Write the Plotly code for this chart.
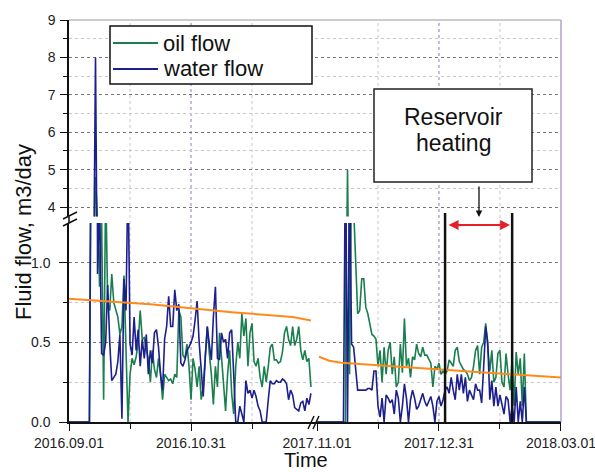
import pandas as pd
import plotly.graph_objects as go

# ---------------- data ----------------
seg1_start = "2016-09-01"
seg2_start = "2017-11-01"

water_seg1 = [0, 0, 0, 0, 0, 0, 0, 0, 0, 0,
              0, 2.5, 1.5, 8.0, 0.93, 1.4, 0.43, 0.42, 0.5, 0.86,
              0.5, 0.26, 0.28, 0.3, 0.38, 0.55, 0.02, 0.9, 0.7, 1.6,
              0.49, 0.42, 0.66, 0.45, 0.58, 0.35, 0.52, 0.4, 0.55, 0.3,
              0.45, 0.37, 0.56, 0.58, 0.47, 0.3, 0.2, 0.52, 0.6, 0.79,
              0.6, 0.6, 0.83, 0.7, 0.74, 0.37, 0.35, 0.39, 0.45, 0.47,
              0.5, 0.54, 0.64, 0.76, 0.5, 0.3, 0.16, 0.4, 0.6, 0.49,
              0.39, 0.66, 0.85, 0.4, 0.39, 0.56, 0.5, 0.52, 0.4, 0.56,
              0.58, 0.3, 0.0, 0.0, 0.1, 0.05, 0.0, 0.26, 0.18, 0.2,
              0.15, 0.2, 0.16, 0.1, 0.07, 0.0, 0.0, 0.0, 0.14, 0.26,
              0.24, 0.24, 0.26, 0.25, 0.25, 0.27, 0.26, 0.24, 0.14, 0.2,
              0.17, 0.09, 0.08, 0.07, 0.12, 0.13, 0.07, 0.15, 0.11, 0.18]

oil_seg1 = [0, 0, 0, 0, 0, 0, 0, 0, 0, 0,
            0, 2.0, 1.6, 4.8, 1.4, 0.85, 1.3, 0.14, 1.5, 0.75,
            0.7, 0.93, 0.75, 0.7, 0.66, 0.55, 0.6, 0.92, 0.45, 0.0,
            0.3, 0.4, 0.36, 0.41, 0.5, 0.7, 0.52, 0.53, 0.45, 0.4,
            0.25, 0.45, 0.33, 0.28, 0.4, 0.3, 0.14, 0.3, 0.28, 0.26,
            0.27, 0.24, 0.3, 0.28, 0.7, 0.66, 0.42, 0.4, 0.49, 0.35,
            0.14, 0.4, 0.33, 0.22, 0.35, 0.14, 0.22, 0.41, 0.6, 0.43,
            0.3, 0.11, 0.35, 0.22, 0.56, 0.41, 0.22, 0.07, 0.3, 0.45,
            0.18, 0.05, 0.35, 0.5, 0.4, 0.68, 0.54, 0.65, 0.35, 0.56,
            0.62, 0.38, 0.35, 0.4, 0.28, 0.22, 0.35, 0.25, 0.35, 0.47,
            0.49, 0.39, 0.39, 0.37, 0.38, 0.44, 0.56, 0.6, 0.52, 0.48,
            0.6, 0.48, 0.52, 0.6, 0.45, 0.39, 0.45, 0.38, 0.4, 0.22]

water_seg2 = [0, 0, 0, 0, 0, 0, 0, 0, 0, 0,
              0, 0, 0, 0, 1.8, 0.0, 1.6, 0.49, 0.47, 0.35,
              0.2, 0.2, 0.2, 0.2, 0.2, 0.21, 0.21, 0.2, 0.32, 0.32,
              0.1, 0.03, 0.15, 0.0, 0.17, 0.15, 0.12, 0.14, 0.05, 0.2,
              0.15, 0.0, 0.1, 0.24, 0.15, 0.0, 0.14, 0.2, 0.15, 0.08,
              0.1, 0.14, 0.18, 0.13, 0.1, 0.13, 0.16, 0.1, 0.0, 0.13,
              0.16, 0.1, 0.14, 0.2, 0.22, 0.18, 0.28, 0.2, 0.14, 0.3,
              0.2, 0.3, 0.18, 0.28, 0.13, 0.2, 0.17, 0.14, 0.24, 0.2,
              0.2, 0.12, 0.35, 0.6, 0.5, 0.14, 0.26, 0.1, 0.22, 0.1,
              0.17, 0.1, 0.05, 0.16, 0.14, 0.0, 0.1, 0.0, 0.22, 0.0,
              0.13, 0.0, 0.22, 0, 0, 0, 0, 0, 0, 0,
              0, 0, 0, 0, 0, 0, 0, 0, 0, 0, 0]

oil_seg2 = [0, 0, 0, 0, 0, 0, 0, 0, 0, 0,
            0, 0, 0, 0, 0, 5.0, 0.3, 1.6, 1.35, 0.95,
            0.68, 0.7, 0.9, 0.9, 0.72, 0.68, 0.62, 0.55, 0.54, 0.52,
            0.35, 0.45, 0.25, 0.47, 0.3, 0.45, 0.5, 0.3, 0.41, 0.22,
            0.25, 0.49, 0.31, 0.65, 0.35, 0.4, 0.28, 0.41, 0.39, 0.49,
            0.43, 0.41, 0.47, 0.42, 0.42, 0.39, 0.37, 0.22, 0.35, 0.33,
            0.37, 0.3, 0.32, 0.3, 0.32, 0.39, 0.37, 0.35, 0.45, 0.47,
            0.38, 0.35, 0.33, 0.32, 0.3, 0.26, 0.28, 0.35, 0.45, 0.48,
            0.3, 0.47, 0.5, 0.62, 0.49, 0.32, 0.45, 0.25, 0.28, 0.43,
            0.45, 0.25, 0.22, 0.43, 0.3, 0.2, 0.4, 0.1, 0.44, 0.3,
            0.4, 0.1, 0.43, 0, 0, 0, 0, 0, 0, 0,
            0, 0, 0, 0, 0, 0, 0, 0, 0, 0, 0]

trend_dates_seg1 = ["2016-09-01", "2016-10-11", "2016-11-20", "2016-12-10", "2016-12-20", "2016-12-29"]
trend_vals_seg1 = [0.775, 0.74, 0.69, 0.672, 0.66, 0.638]
trend_dates_seg2 = ["2017-11-02", "2017-11-07", "2017-11-13", "2017-12-02", "2017-12-31", "2018-02-01", "2018-03-01"]
trend_vals_seg2 = [0.41, 0.385, 0.372, 0.355, 0.33, 0.30, 0.279]

heating_start = "2018-01-03"
heating_end = "2018-02-05"

major_ticks = ["2016-09-01", "2016-10-31", "2017-11-01", "2017-12-31", "2018-03-01"]
major_labels = ["2016.09.01", "2016.10.31", "2017.11.01", "2017.12.31", "2018.03.01"]
minor_ticks = ["2016-10-01", "2016-11-30", "2017-12-01", "2018-01-30"]
gap_date = "2017-06-01"
break_bounds = ["2017-01-01", "2017-11-01"]

# ---------------- build ----------------
d1 = list(pd.date_range(seg1_start, periods=len(water_seg1), freq="D"))
d2 = list(pd.date_range(seg2_start, periods=len(water_seg2), freq="D"))
xs = d1 + [pd.Timestamp(gap_date)] + d2
water = water_seg1 + [None] + water_seg2
oil = oil_seg1 + [None] + oil_seg2
tx = trend_dates_seg1 + [gap_date] + trend_dates_seg2
ty = trend_vals_seg1 + [None] + trend_vals_seg2

GREEN = "#1a7f4f"
BLUE = "#1c1f8c"
ORANGE = "#ff8a1c"
FONT = "Liberation Sans, Arial, sans-serif"

L, R, T, B = 69, 34, 20, 50
W, H = 595 - L - R, 472 - T - B
def px(x):
    return (x - L) / W
def py(y):
    return (T + H - y) / H

fig = go.Figure()
for xa, ya in (("x", "y"), ("x2", "y2")):
    fig.add_trace(go.Scatter(x=xs, y=oil, mode="lines", line=dict(color=GREEN, width=1.6),
                             xaxis=xa, yaxis=ya, showlegend=False, connectgaps=False))
    fig.add_trace(go.Scatter(x=xs, y=water, mode="lines", line=dict(color=BLUE, width=1.6),
                             xaxis=xa, yaxis=ya, showlegend=False, connectgaps=False))
fig.add_trace(go.Scatter(x=tx, y=ty, mode="lines", line=dict(color=ORANGE, width=2),
                         xaxis="x", yaxis="y", showlegend=False, connectgaps=False))

low_top = 0.495
up_bot = 0.5114

xcommon = dict(type="date", range=["2016-08-31 23:00", "2018-03-01 01:00"],
               rangebreaks=[dict(bounds=break_bounds)], showgrid=False, zeroline=False,
               automargin=False)

fig.update_layout(
    width=595, height=472,
    margin=dict(l=L, r=R, t=T, b=B),
    paper_bgcolor="white", plot_bgcolor="white",
    font=dict(family=FONT, color="#222"),
    xaxis=dict(**xcommon, domain=[0, 1], anchor="y",
               tickmode="array", tickvals=major_ticks, ticktext=major_labels,
               ticks="outside", ticklen=7, tickwidth=1.2, tickcolor="#111",
               tickfont=dict(size=14, color="#222"), ticklabeloverflow="allow",
               showline=True, linecolor="#111", linewidth=1.5,
               minor=dict(tickvals=minor_ticks, ticks="outside", ticklen=5, tickcolor="#111", showgrid=False)),
    xaxis2=dict(**xcommon, domain=[0, 1], anchor="y2", matches="x",
                showticklabels=False, ticks="", showline=False),
    yaxis=dict(domain=[0, low_top], anchor="x", range=[0, 1.25], automargin=False,
               tickmode="array", tickvals=[0, 0.5, 1.0], ticktext=["0.0", "0.5", "1.0"],
               ticks="outside", ticklen=8, tickcolor="#111", tickwidth=1.2,
               ticklabelstandoff=6, tickfont=dict(size=14, color="#222"),
               showline=True, linecolor="#111", linewidth=1.5, zeroline=False,
               showgrid=True, gridcolor="#777", griddash="dot", gridwidth=1,
               minor=dict(tickvals=[0.25, 0.75], ticks="outside", ticklen=4, tickcolor="#111",
                          showgrid=True, gridcolor="#c8c8c8", griddash="dot")),
    yaxis2=dict(domain=[up_bot, 1], anchor="x2", range=[3.75, 9], automargin=False,
                tickmode="array", tickvals=[4, 5, 6, 7, 8, 9],
                ticks="outside", ticklen=7, tickcolor="#111", tickwidth=1.2,
                ticklabelstandoff=2, tickfont=dict(size=14, color="#222"),
                showline=True, linecolor="#111", linewidth=1.5, zeroline=False,
                showgrid=True, gridcolor="#777", griddash="dot", gridwidth=1,
                minor=dict(tickvals=[4.5, 5.5, 6.5, 7.5, 8.5], ticks="outside", ticklen=4, tickcolor="#111",
                           showgrid=True, gridcolor="#c8c8c8", griddash="dot")),
)

shapes = []
# vertical grid lines
for d in ["2016-10-31", "2017-12-31"]:
    shapes.append(dict(type="line", xref="x", yref="paper", x0=d, x1=d, y0=0, y1=1,
                       line=dict(color="#9a78b4", width=1, dash="dot"), layer="below"))
for d in minor_ticks:
    shapes.append(dict(type="line", xref="x", yref="paper", x0=d, x1=d, y0=0, y1=1,
                       line=dict(color="#c8c8c8", width=1, dash="dot"), layer="below"))
# frame
shapes.append(dict(type="line", xref="paper", yref="paper", x0=0, x1=1, y0=1, y1=1,
                   line=dict(color="#999", width=1)))
shapes.append(dict(type="line", xref="paper", yref="paper", x0=1, x1=1, y0=0, y1=1,
                   line=dict(color="#a08cbc", width=1.2)))
shapes.append(dict(type="line", xref="paper", yref="paper", x0=0, x1=0, y0=low_top, y1=up_bot,
                   line=dict(color="#111", width=1.5)))
# axis break marks (y)
for (xa, ya, xb, yb) in [(63, 219, 77, 212), (63, 226, 77, 219)]:
    shapes.append(dict(type="line", xref="paper", yref="paper", x0=px(xa), y0=py(ya), x1=px(xb), y1=py(yb),
                       line=dict(color="#111", width=1.5)))
# axis break marks (x)
for (xa, ya, xb, yb) in [(308, 429, 314, 416), (313, 429, 319, 416)]:
    shapes.append(dict(type="line", xref="paper", yref="paper", x0=px(xa), y0=py(ya), x1=px(xb), y1=py(yb),
                       line=dict(color="#111", width=1.5)))
# legend box
shapes.append(dict(type="rect", xref="paper", yref="paper", x0=px(110), x1=px(312), y0=py(84), y1=py(26),
                   line=dict(color="#111", width=1.5), fillcolor="white"))
shapes.append(dict(type="line", xref="paper", yref="paper", x0=px(113), x1=px(158), y0=py(43), y1=py(43),
                   line=dict(color=GREEN, width=2)))
shapes.append(dict(type="line", xref="paper", yref="paper", x0=px(113), x1=px(158), y0=py(69), y1=py(69),
                   line=dict(color=BLUE, width=2)))
# reservoir heating box
shapes.append(dict(type="rect", xref="paper", yref="paper", x0=px(374), x1=px(532), y0=py(182), y1=py(89),
                   line=dict(color="#222", width=1.5), fillcolor="white"))
# heating lines
for d in [heating_start, heating_end]:
    shapes.append(dict(type="line", xref="x", yref="paper", x0=d, x1=d, y0=0, y1=py(213),
                       line=dict(color="#111", width=2.5)))
fig.update_layout(shapes=shapes)

ann = []
ann.append(dict(text="oil flow", xref="paper", yref="paper", x=px(161), y=py(43), xanchor="left", yanchor="middle",
                showarrow=False, font=dict(size=22, color="#111", family=FONT)))
ann.append(dict(text="water flow", xref="paper", yref="paper", x=px(161), y=py(69), xanchor="left", yanchor="middle",
                showarrow=False, font=dict(size=22, color="#111", family=FONT)))
ann.append(dict(text="Reservoir", xref="paper", yref="paper", x=px(453), y=py(117), xanchor="center", yanchor="middle",
                showarrow=False, font=dict(size=23, color="#111", family=FONT)))
ann.append(dict(text="heating", xref="paper", yref="paper", x=px(453), y=py(143), xanchor="center", yanchor="middle",
                showarrow=False, font=dict(size=23, color="#111", family=FONT)))
ann.append(dict(text="", xref="paper", yref="paper", x=px(479), y=py(217), ax=0, ay=-32,
                showarrow=True, arrowhead=2, arrowsize=1, arrowwidth=1.3, arrowcolor="#111"))
ann.append(dict(text="", xref="x", yref="paper", x=heating_end, y=py(225), axref="x", ax=heating_start, ayref="pixel", ay=0,
                showarrow=True, arrowhead=2, startarrowhead=2, arrowside="end+start", arrowsize=1,
                arrowwidth=2, arrowcolor="#e3202c", standoff=2, startstandoff=2))
ann.append(dict(text="Fluid flow, m3/day", xref="paper", yref="paper", x=px(23), y=py(232), textangle=-90,
                xanchor="center", yanchor="middle", showarrow=False, font=dict(size=22, color="#111", family=FONT)))
ann.append(dict(text="Time", xref="paper", yref="paper", x=px(306), y=py(472), xanchor="center", yanchor="bottom",
                showarrow=False, borderpad=0, font=dict(size=20, color="#111", family=FONT)))
fig.update_layout(annotations=ann)

fig.write_html("out.html")
